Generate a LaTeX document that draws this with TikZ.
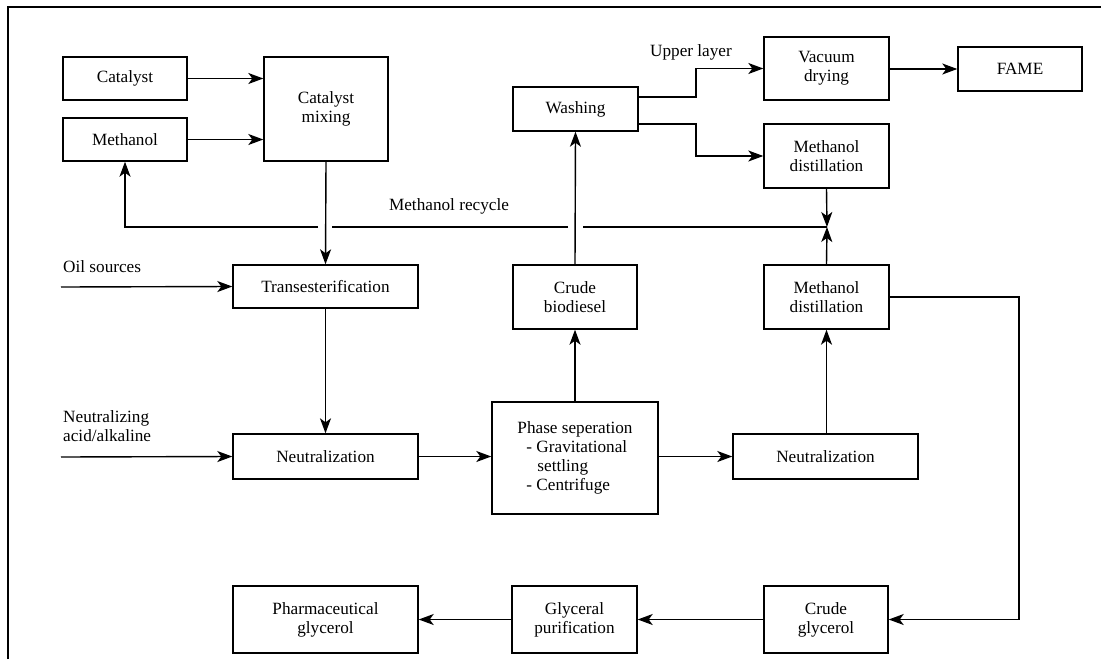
\documentclass[tikz,border=0pt]{standalone}
\usepackage{fontspec}
\setmainfont{Liberation Serif}
\usetikzlibrary{arrows.meta,calc}
\begin{document}
\begin{tikzpicture}[x=1pt,y=-1pt,
  box/.style={draw,line width=1.4pt,rectangle,inner sep=0pt,align=center,
    font=\fontsize{17.2}{19}\selectfont},
  lbl/.style={inner sep=0pt,font=\fontsize{17.2}{19}\selectfont},
  conn/.style={line width=1.4pt},
  arr/.style={conn,-{Stealth[length=15pt,width=11pt,inset=4pt]}}]
\useasboundingbox (0,0) rectangle (1101,659);
% frame
\draw[line width=2pt] (8,659) -- (8,7) -- (1101,7);
% nodes
\node[box,minimum width=124pt,minimum height=43pt] (cat) at (125,78.5) {Catalyst};
\node[box,minimum width=124pt,minimum height=43pt] (meth) at (125,139.5) {Methanol};
\node[box,minimum width=124pt,minimum height=104pt] (mix) at (326,109) {Catalyst\\mixing};
\node[box,minimum width=125pt,minimum height=44pt] (wash) at (575.5,109) {Washing};
\node[box,minimum width=125pt,minimum height=63pt] (vac) at (826.5,68.5) {Vacuum\\drying};
\node[box,minimum width=124pt,minimum height=44pt] (fame) at (1020,69) {FAME};
\node[box,minimum width=125pt,minimum height=64pt] (md1) at (826.5,156) {Methanol\\distillation};
\node[box,minimum width=185pt,minimum height=43pt] (trans) at (325.5,286.5) {Transesterification};
\node[box,minimum width=124pt,minimum height=64pt] (crude) at (575,297) {Crude\\biodiesel};
\node[box,minimum width=125pt,minimum height=64pt] (md2) at (826.5,297) {Methanol\\distillation};
\node[box,minimum width=185pt,minimum height=45pt] (neu1) at (325.5,456.5) {Neutralization};
\node[box,minimum width=166pt,minimum height=112pt,align=left] (phase) at (575,458)
  {Phase seperation\\\hspace*{9pt}- Gravitational\\\hspace*{20pt}settling\\\hspace*{9pt}- Centrifuge};
\node[box,minimum width=185pt,minimum height=45pt] (neu2) at (825.5,456.5) {Neutralization};
\node[box,minimum width=185pt,minimum height=67pt] (pharma) at (325.5,619.5) {Pharmaceutical\\glycerol};
\node[box,minimum width=125pt,minimum height=67pt] (glyc) at (574.5,619.5) {Glyceral\\purification};
\node[box,minimum width=124pt,minimum height=67pt] (cglyc) at (826,619.5) {Crude\\glycerol};
% labels
\node[lbl,anchor=west] (oillbl) at (63,267) {Oil sources};
\node[lbl,anchor=west,align=left] (neulbl) at (63,426.5) {Neutralizing\\acid/alkaline};
\node[lbl] (reclbl) at (449,206) {Methanol recycle};
\node[lbl] (uplbl) at (691,52) {Upper layer};
% coordinates
\coordinate (oilin) at (61,287);
\coordinate (neuin) at (61,457);
\coordinate (J) at (827,227);
% connectors
\draw[arr] (cat.east) -- (cat.east -| mix.west);
\draw[arr] (meth.east) -- (meth.east -| mix.west);
\draw[arr] (mix.south) -- (trans.north);
\draw[arr] (trans.south) -- (neu1.north);
\draw[arr] (oilin) -- (trans.west);
\draw[arr] (neuin) -- (neu1.west);
\draw[arr] (neu1.east) -- (neu1.east -| phase.west);
\draw[arr] (phase.north) -- (crude.south);
\draw[arr] (crude.north) -- (wash.south);
\draw[arr] (phase.east |- neu2.west) -- (neu2.west);
\draw[arr] (md2.south |- neu2.north) -- (md2.south);
\draw[arr] (md2.north) -- (J);
\draw[arr] (md1.south) -- (J);
\draw[conn] (J) -- (583,227);
\draw[conn] (568,227) -- (332,227);
\draw[arr] (318,227) -- (meth.south |- J) -- (meth.south);
\draw[arr] ([yshift=12pt]wash.east) -- (696,97) |- (vac.west);
\draw[arr] ([yshift=-15pt]wash.east) -- (696,124) |- (md1.west);
\draw[arr] (vac.east |- fame.west) -- (fame.west);
\draw[arr] (md2.east) -- (1019,297) |- (cglyc.east);
\draw[arr] (cglyc.west) -- (glyc.east);
\draw[arr] (glyc.west) -- (pharma.east);
\end{tikzpicture}
\end{document}
